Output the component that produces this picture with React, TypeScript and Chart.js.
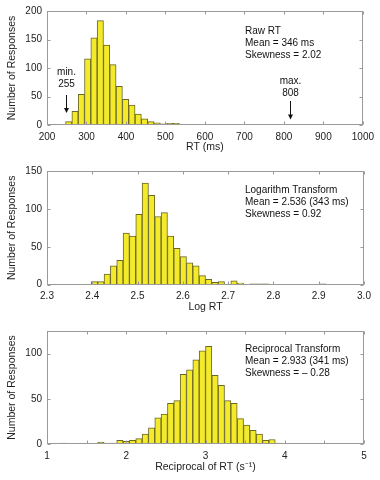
import React, { useEffect, useRef } from "react";
import { Chart, registerables } from "chart.js";
Chart.register(...registerables);

// ---------- Data ----------
// Panel 1: raw RT (ms) – bin centres and counts
const rawCenters = [255, 271, 287, 303, 319, 335, 351, 367, 383, 399, 415, 431, 447, 463, 479, 495, 511, 527, 543, 559, 591, 607, 815];
const rawCounts = [6, 24, 54, 116, 153, 183, 140, 106, 68, 45, 35, 19, 11, 6, 4, 2, 3, 3, 1, 1, 1, 1, 1];

// Panel 2: log10 RT
const logCenters = [2.405, 2.419, 2.433, 2.447, 2.461, 2.475, 2.489, 2.503, 2.517, 2.531, 2.545, 2.559, 2.573, 2.587, 2.601, 2.615, 2.629, 2.643, 2.657, 2.671, 2.685, 2.713, 2.727, 2.755, 2.769, 2.783, 2.909];
const logCounts = [4, 4, 14, 25, 32, 68, 64, 93, 134, 118, 90, 95, 64, 48, 37, 29, 25, 12, 7, 3, 4, 5, 2, 1, 1, 1, 1];

// Panel 3: reciprocal RT (1/s)
const recCenters = [1.2, 1.68, 1.76, 1.84, 1.92, 2.0, 2.08, 2.16, 2.24, 2.32, 2.4, 2.48, 2.56, 2.64, 2.72, 2.8, 2.88, 2.96, 3.04, 3.12, 3.2, 3.28, 3.36, 3.44, 3.52, 3.6, 3.68, 3.76, 3.84, 3.92];
const recCounts = [1, 2, 1, 1, 4, 3, 4, 6, 11, 18, 29, 33, 45, 48, 77, 82, 93, 103, 108, 76, 65, 48, 45, 28, 21, 15, 11, 4, 5, 1];

const rawText = ["Raw RT", "Mean = 346 ms", "Skewness = 2.02"];
const logText = ["Logarithm Transform", "Mean = 2.536 (343 ms)", "Skewness = 0.92"];
const recText = ["Reciprocal Transform", "Mean = 2.933 (341 ms)", "Skewness = \u2013 0.28"];

const rawXTitle = "RT (ms)";
const logXTitle = "Log RT";
const recXTitle = "Reciprocal of RT (s\u207B\u00B9)";
const yTitle = "Number of Responses";

const FONT = "'Liberation Sans', Arial, Helvetica, sans-serif";
const FRAME = "#9a9a9a";
const TEXT = "#222";
const BAR_FILL = "#f3ea2a";
const BAR_EDGE = "#6a6628";

const decorPlugin = {
  id: "decor",
  afterDraw(chart: any, _args: any, opts: any) {
    const { ctx, chartArea, scales } = chart;
    const { left, right, top, bottom } = chartArea;
    const xs = scales.x;
    const ys = scales.y;
    ctx.save();
    ctx.strokeStyle = FRAME;
    ctx.lineWidth = 1;
    const L = Math.round(left) + 0.5;
    const R = Math.round(right) - 0.5;
    const T = Math.round(top) + 0.5;
    const B = Math.round(bottom) - 0.5;
    ctx.strokeRect(L, T, R - L, B - T);
    const tl = 3;
    ctx.beginPath();
    const xTickVals = xs.ticks.map((t: any) => t.value).concat(opts.minorX || []);
    xTickVals.forEach((v: number) => {
      const px = Math.round(xs.getPixelForValue(v)) + 0.5;
      ctx.moveTo(px, B);
      ctx.lineTo(px, B - tl);
      ctx.moveTo(px, T);
      ctx.lineTo(px, T + tl);
    });
    ys.ticks.forEach((t: any) => {
      const py = Math.round(ys.getPixelForValue(t.value)) + 0.5;
      ctx.moveTo(L, py);
      ctx.lineTo(L + tl, py);
      ctx.moveTo(R, py);
      ctx.lineTo(R - tl, py);
    });
    ctx.stroke();

    // annotation text block
    ctx.fillStyle = "#111";
    ctx.font = `10px ${FONT}`;
    ctx.textAlign = "left";
    ctx.textBaseline = "middle";
    (opts.lines || []).forEach((s: string, i: number) => {
      ctx.fillText(s, opts.textX, opts.textY + i * 12.3);
    });

    // arrows
    (opts.arrows || []).forEach((a: any) => {
      const px = Math.round(xs.getPixelForValue(a.value)) + 0.5;
      ctx.textAlign = "center";
      a.labels.forEach((s: string, i: number) => {
        ctx.fillText(s, px, a.labelY + i * 12);
      });
      ctx.strokeStyle = "#111";
      ctx.beginPath();
      ctx.moveTo(px, a.y0);
      ctx.lineTo(px, a.y1 - 4);
      ctx.stroke();
      ctx.beginPath();
      ctx.moveTo(px - 2.5, a.y1 - 5);
      ctx.lineTo(px + 2.5, a.y1 - 5);
      ctx.lineTo(px, a.y1);
      ctx.closePath();
      ctx.fill();
    });
    ctx.restore();
  },
};

type PanelProps = {
  centers: number[];
  counts: number[];
  xMin: number;
  xMax: number;
  xStep: number;
  xDecimals: number;
  yMax: number;
  xTitle: string;
  padTop: number;
  xHeight: number;
  decor: any;
};

function Panel(p: PanelProps) {
  const ref = useRef<HTMLCanvasElement | null>(null);
  useEffect(() => {
    if (!ref.current) return;
    const data = p.centers.map((c, i) => ({ x: c, y: p.counts[i] }));
    const chart = new Chart(ref.current, {
      type: "bar",
      data: {
        datasets: [
          {
            data: data as any,
            backgroundColor: BAR_FILL,
            borderColor: BAR_EDGE,
            borderWidth: 1,
            borderSkipped: false,
            barPercentage: 1,
            categoryPercentage: 1,
          },
        ],
      },
      options: {
        responsive: false,
        animation: false,
        events: [],
        layout: { padding: { top: p.padTop, right: 16, left: 0, bottom: 0 } },
        plugins: {
          legend: { display: false },
          tooltip: { enabled: false },
          decor: p.decor,
        } as any,
        scales: {
          x: {
            type: "linear",
            min: p.xMin,
            max: p.xMax,
            offset: false,
            grid: { display: false, offset: false, drawTicks: false, tickLength: 0 },
            border: { display: false },
            ticks: {
              stepSize: p.xStep,
              padding: 6,
              color: TEXT,
              font: { family: FONT, size: 10 },
              maxRotation: 0,
              autoSkip: false,
              callback: (v: any) => Number(v).toFixed(p.xDecimals),
            },
            title: {
              display: true,
              text: p.xTitle,
              color: TEXT,
              font: { family: FONT, size: 10.5 },
              padding: { top: 0, bottom: 6.5 },
            },
            afterFit: (s: any) => {
              s.height = p.xHeight;
            },
          },
          y: {
            type: "linear",
            min: 0,
            max: p.yMax,
            grid: { display: false, drawTicks: false, tickLength: 0 },
            border: { display: false },
            ticks: {
              stepSize: 50,
              padding: 5,
              color: TEXT,
              font: { family: FONT, size: 10 },
            },
            afterBuildTicks: (s: any) => {
              s.ticks = s.ticks.filter((t: any) => t.value % 50 === 0);
            },
            title: {
              display: true,
              text: yTitle,
              color: TEXT,
              font: { family: FONT, size: 10.5 },
              padding: { top: 6.2, bottom: 0 },
            },
            afterFit: (s: any) => {
              s.width = 47;
            },
          },
        },
      },
      plugins: [decorPlugin],
    });
    return () => chart.destroy();
  }, []);
  return <canvas ref={ref} width={380} height={160} style={{ display: "block", width: 380, height: 160 }} />;
}

export default function App() {
  return (
    <div style={{ position: "absolute", left: 0, top: 0, width: 380, height: 480, background: "#fff" }}>
      <div style={{ position: "absolute", left: 0, top: 0 }}>
        <Panel
          centers={rawCenters}
          counts={rawCounts}
          xMin={200}
          xMax={1000}
          xStep={100}
          xDecimals={0}
          yMax={200}
          xTitle={rawXTitle}
          padTop={11}
          xHeight={35}
          decor={{
            lines: rawText,
            textX: 245,
            textY: 31,
            arrows: [
              { value: 248, labels: ["min.", "255"], labelY: 72.7, y0: 95, y1: 113 },
              { value: 815, labels: ["max.", "808"], labelY: 81.7, y0: 101, y1: 119.5 },
            ],
          }}
        />
      </div>
      <div style={{ position: "absolute", left: 0, top: 160 }}>
        <Panel
          centers={logCenters}
          counts={logCounts}
          xMin={2.3}
          xMax={3.0}
          xStep={0.1}
          xDecimals={1}
          yMax={150}
          xTitle={logXTitle}
          padTop={9.3}
          xHeight={35.3}
          decor={{ lines: logText, textX: 245, textY: 30, arrows: [] }}
        />
      </div>
      <div style={{ position: "absolute", left: 0, top: 320 }}>
        <Panel
          centers={recCenters}
          counts={recCounts}
          xMin={1}
          xMax={5}
          xStep={1}
          xDecimals={0}
          yMax={125}
          xTitle={recXTitle}
          padTop={9.3}
          xHeight={36}
          decor={{ lines: recText, textX: 245, textY: 29, arrows: [], minorX: [1.5, 2.5, 3.5, 4.5] }}
        />
      </div>
    </div>
  );
}
